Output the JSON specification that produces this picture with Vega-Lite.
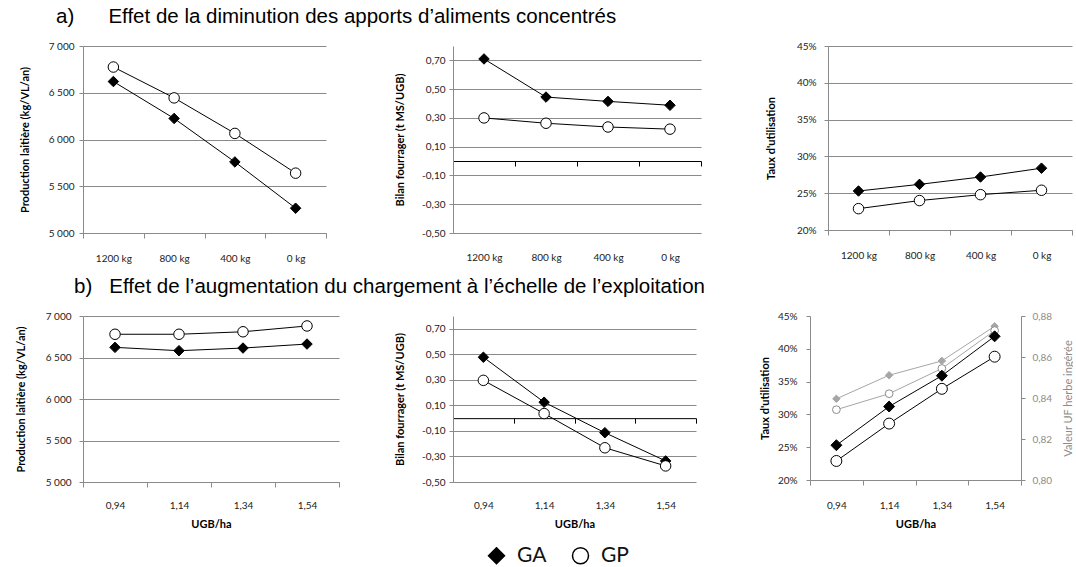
{
  "$schema": "https://vega.github.io/schema/vega-lite/v6.json",
  "padding": {"left": 15, "top": 6, "right": 0, "bottom": 0},
  "data": {"values": [
    {"panel": "A1", "x": "1200 kg", "serie": "GA", "v": 6620},
    {"panel": "A1", "x": "800 kg", "serie": "GA", "v": 6225},
    {"panel": "A1", "x": "400 kg", "serie": "GA", "v": 5760},
    {"panel": "A1", "x": "0 kg", "serie": "GA", "v": 5265},
    {"panel": "A1", "x": "1200 kg", "serie": "GP", "v": 6775},
    {"panel": "A1", "x": "800 kg", "serie": "GP", "v": 6445},
    {"panel": "A1", "x": "400 kg", "serie": "GP", "v": 6065},
    {"panel": "A1", "x": "0 kg", "serie": "GP", "v": 5640},
    {"panel": "A2", "x": "1200 kg", "serie": "GA", "v": 0.71},
    {"panel": "A2", "x": "800 kg", "serie": "GA", "v": 0.445},
    {"panel": "A2", "x": "400 kg", "serie": "GA", "v": 0.415},
    {"panel": "A2", "x": "0 kg", "serie": "GA", "v": 0.388},
    {"panel": "A2", "x": "1200 kg", "serie": "GP", "v": 0.3},
    {"panel": "A2", "x": "800 kg", "serie": "GP", "v": 0.263},
    {"panel": "A2", "x": "400 kg", "serie": "GP", "v": 0.237},
    {"panel": "A2", "x": "0 kg", "serie": "GP", "v": 0.222},
    {"panel": "A3", "x": "1200 kg", "serie": "GA", "v": 0.253},
    {"panel": "A3", "x": "800 kg", "serie": "GA", "v": 0.262},
    {"panel": "A3", "x": "400 kg", "serie": "GA", "v": 0.272},
    {"panel": "A3", "x": "0 kg", "serie": "GA", "v": 0.284},
    {"panel": "A3", "x": "1200 kg", "serie": "GP", "v": 0.229},
    {"panel": "A3", "x": "800 kg", "serie": "GP", "v": 0.24},
    {"panel": "A3", "x": "400 kg", "serie": "GP", "v": 0.248},
    {"panel": "A3", "x": "0 kg", "serie": "GP", "v": 0.254},
    {"panel": "B1", "x": "0,94", "serie": "GA", "v": 6622},
    {"panel": "B1", "x": "1,14", "serie": "GA", "v": 6582},
    {"panel": "B1", "x": "1,34", "serie": "GA", "v": 6614},
    {"panel": "B1", "x": "1,54", "serie": "GA", "v": 6662},
    {"panel": "B1", "x": "0,94", "serie": "GP", "v": 6780},
    {"panel": "B1", "x": "1,14", "serie": "GP", "v": 6780},
    {"panel": "B1", "x": "1,34", "serie": "GP", "v": 6810},
    {"panel": "B1", "x": "1,54", "serie": "GP", "v": 6880},
    {"panel": "B2", "x": "0,94", "serie": "GA", "v": 0.477},
    {"panel": "B2", "x": "1,14", "serie": "GA", "v": 0.125},
    {"panel": "B2", "x": "1,34", "serie": "GA", "v": -0.114},
    {"panel": "B2", "x": "1,54", "serie": "GA", "v": -0.335},
    {"panel": "B2", "x": "0,94", "serie": "GP", "v": 0.296},
    {"panel": "B2", "x": "1,14", "serie": "GP", "v": 0.036},
    {"panel": "B2", "x": "1,34", "serie": "GP", "v": -0.232},
    {"panel": "B2", "x": "1,54", "serie": "GP", "v": -0.374},
    {"panel": "B3", "x": "0,94", "serie": "GA", "v": 0.253},
    {"panel": "B3", "x": "1,14", "serie": "GA", "v": 0.312},
    {"panel": "B3", "x": "1,34", "serie": "GA", "v": 0.359},
    {"panel": "B3", "x": "1,54", "serie": "GA", "v": 0.419},
    {"panel": "B3", "x": "0,94", "serie": "GP", "v": 0.229},
    {"panel": "B3", "x": "1,14", "serie": "GP", "v": 0.286},
    {"panel": "B3", "x": "1,34", "serie": "GP", "v": 0.339},
    {"panel": "B3", "x": "1,54", "serie": "GP", "v": 0.388},
    {"panel": "B3u", "x": "0,94", "serie": "GA UF", "v": 0.8396},
    {"panel": "B3u", "x": "1,14", "serie": "GA UF", "v": 0.8511},
    {"panel": "B3u", "x": "1,34", "serie": "GA UF", "v": 0.8581},
    {"panel": "B3u", "x": "1,54", "serie": "GA UF", "v": 0.8750},
    {"panel": "B3u", "x": "0,94", "serie": "GP UF", "v": 0.8343},
    {"panel": "B3u", "x": "1,14", "serie": "GP UF", "v": 0.8421},
    {"panel": "B3u", "x": "1,34", "serie": "GP UF", "v": 0.8544},
    {"panel": "B3u", "x": "1,54", "serie": "GP UF", "v": 0.8729}
  ]},
  "vconcat": [
    {
      "title": {"text": "a)\u00a0\u00a0\u00a0\u00a0\u00a0\u00a0Effet de la diminution des apports d\u2019aliments concentrés", "frame": "group", "dx": -27, "offset": 14},
      "bounds": "flush",
      "spacing": 127,
      "hconcat": [
        {
          "width": 243, "height": 187,
          "transform": [{"filter": "datum.panel === 'A1'"}],
          "encoding": {
            "x": {"field": "x", "type": "ordinal", "sort": ["1200 kg", "800 kg", "400 kg", "0 kg"], "bandPosition": 0.5, "scale": {"type": "band", "paddingInner": 0, "paddingOuter": 0}, "axis": {"title": null, "labelPadding": 15}},
            "y": {"field": "v", "type": "quantitative", "scale": {"domain": [5000, 7000], "nice": false, "zero": false}, "axis": {"title": "Production laitière (kg/VL/an)", "values": [5000, 5500, 6000, 6500, 7000], "labelExpr": "replace(format(datum.value, ',.0f'), ',', ' ')", "minExtent": 44, "maxExtent": 44, "titlePadding": 9, "labelPadding": 5}}
          },
          "layer": [
            {"mark": {"type": "line", "color": "#000", "strokeWidth": 1}, "encoding": {"detail": {"field": "serie", "type": "nominal"}}},
            {"mark": {"type": "point", "filled": true, "size": 110, "stroke": "#000", "strokeWidth": 1, "opacity": 1},
             "encoding": {
               "shape": {"field": "serie", "type": "nominal", "scale": {"domain": ["GA", "GP"], "range": ["diamond", "circle"]},
                 "legend": {"title": null, "orient": "none", "legendX": 403, "legendY": 499, "direction": "horizontal", "padding": 0, "symbolSize": 256, "labelFont": "Lato", "labelFontSize": 21, "labelColor": "#111", "labelOffset": 10, "columnPadding": 22}},
               "fill": {"field": "serie", "type": "nominal", "scale": {"domain": ["GA", "GP"], "range": ["#000000", "#ffffff"]}, "legend": null}
             }}
          ]
        },
        {
          "width": 248, "height": 187,
          "transform": [{"filter": "datum.panel === 'A2'"}],
          "encoding": {
            "y": {"field": "v", "type": "quantitative", "scale": {"domain": [-0.5, 0.8], "nice": false, "zero": false}, "axis": {"title": "Bilan fourrager (t MS/UGB)", "values": [-0.5, -0.3, -0.1, 0.1, 0.3, 0.5, 0.7], "labelExpr": "(datum.value < 0 ? '-' : '') + replace(format(abs(datum.value), '.2f'), '.', ',')", "minExtent": 31, "maxExtent": 31, "titlePadding": 17, "labelPadding": 4}}
          },
          "layer": [
            {"mark": {"type": "line", "color": "#000", "strokeWidth": 1},
             "encoding": {
               "x": {"field": "x", "type": "ordinal", "sort": ["1200 kg", "800 kg", "400 kg", "0 kg"], "bandPosition": 0.5, "scale": {"type": "band", "paddingInner": 0, "paddingOuter": 0}, "axis": {"title": null, "orient": "bottom", "domain": false, "ticks": false, "tickSize": 0, "labelPadding": 19}},
               "detail": {"field": "serie", "type": "nominal"}}},
            {"mark": {"type": "point", "filled": true, "size": 110, "stroke": "#000", "strokeWidth": 1, "opacity": 1},
             "encoding": {
               "x": {"field": "x", "type": "ordinal", "sort": ["1200 kg", "800 kg", "400 kg", "0 kg"], "bandPosition": 0.5, "scale": {"type": "band", "paddingInner": 0, "paddingOuter": 0}, "axis": {"title": null, "orient": "bottom", "labels": false, "offset": -72, "domainColor": "#000", "tickColor": "#000"}},
               "shape": {"field": "serie", "type": "nominal", "scale": {"domain": ["GA", "GP"], "range": ["diamond", "circle"]}},
               "fill": {"field": "serie", "type": "nominal", "scale": {"domain": ["GA", "GP"], "range": ["#000000", "#ffffff"]}, "legend": null}
             }}
          ],
          "resolve": {"axis": {"x": "independent"}}
        },
        {
          "width": 244, "height": 184,
          "transform": [{"filter": "datum.panel === 'A3'"}],
          "encoding": {
            "x": {"field": "x", "type": "ordinal", "sort": ["1200 kg", "800 kg", "400 kg", "0 kg"], "bandPosition": 0.5, "scale": {"type": "band", "paddingInner": 0, "paddingOuter": 0}, "axis": {"title": null, "labelPadding": 15}},
            "y": {"field": "v", "type": "quantitative", "scale": {"domain": [0.2, 0.45], "nice": false, "zero": false}, "axis": {"title": "Taux d'utilisation", "values": [0.2, 0.25, 0.3, 0.35, 0.4, 0.45], "format": ".0%", "minExtent": 36, "maxExtent": 36, "titlePadding": 16, "labelPadding": 8}}
          },
          "layer": [
            {"mark": {"type": "line", "color": "#000", "strokeWidth": 1}, "encoding": {"detail": {"field": "serie", "type": "nominal"}}},
            {"mark": {"type": "point", "filled": true, "size": 110, "stroke": "#000", "strokeWidth": 1, "opacity": 1},
             "encoding": {
               "shape": {"field": "serie", "type": "nominal", "scale": {"domain": ["GA", "GP"], "range": ["diamond", "circle"]}},
               "fill": {"field": "serie", "type": "nominal", "scale": {"domain": ["GA", "GP"], "range": ["#000000", "#ffffff"]}, "legend": null}
             }}
          ]
        }
      ]
    },
    {
      "title": {"text": "b)\u00a0\u00a0\u00a0Effet de l\u2019augmentation du chargement à l\u2019échelle de l\u2019exploitation", "frame": "group", "dx": -9, "offset": 14},
      "bounds": "flush",
      "spacing": 114,
      "hconcat": [
        {
          "width": 256, "height": 166,
          "transform": [{"filter": "datum.panel === 'B1'"}],
          "encoding": {
            "x": {"field": "x", "type": "ordinal", "sort": ["0,94", "1,14", "1,34", "1,54"], "bandPosition": 0.5, "scale": {"type": "band", "paddingInner": 0, "paddingOuter": 0}, "axis": {"title": "UGB/ha", "labelPadding": 13, "titlePadding": 8}},
            "y": {"field": "v", "type": "quantitative", "scale": {"domain": [5000, 7000], "nice": false, "zero": false}, "axis": {"title": "Production laitière (kg/VL/an)", "values": [5000, 5500, 6000, 6500, 7000], "labelExpr": "replace(format(datum.value, ',.0f'), ',', ' ')", "minExtent": 44, "maxExtent": 44, "titlePadding": 13, "labelPadding": 8}}
          },
          "layer": [
            {"mark": {"type": "line", "color": "#000", "strokeWidth": 1}, "encoding": {"detail": {"field": "serie", "type": "nominal"}}},
            {"mark": {"type": "point", "filled": true, "size": 110, "stroke": "#000", "strokeWidth": 1, "opacity": 1},
             "encoding": {
               "shape": {"field": "serie", "type": "nominal", "scale": {"domain": ["GA", "GP"], "range": ["diamond", "circle"]}},
               "fill": {"field": "serie", "type": "nominal", "scale": {"domain": ["GA", "GP"], "range": ["#000000", "#ffffff"]}, "legend": null}
             }}
          ]
        },
        {
          "width": 243, "height": 166,
          "transform": [{"filter": "datum.panel === 'B2'"}],
          "encoding": {
            "y": {"field": "v", "type": "quantitative", "scale": {"domain": [-0.5, 0.8], "nice": false, "zero": false}, "axis": {"title": "Bilan fourrager (t MS/UGB)", "values": [-0.5, -0.3, -0.1, 0.1, 0.3, 0.5, 0.7], "labelExpr": "(datum.value < 0 ? '-' : '') + replace(format(abs(datum.value), '.2f'), '.', ',')", "minExtent": 31, "maxExtent": 31, "titlePadding": 17, "labelPadding": 4}}
          },
          "layer": [
            {"mark": {"type": "line", "color": "#000", "strokeWidth": 1},
             "encoding": {
               "x": {"field": "x", "type": "ordinal", "sort": ["0,94", "1,14", "1,34", "1,54"], "bandPosition": 0.5, "scale": {"type": "band", "paddingInner": 0, "paddingOuter": 0}, "axis": {"title": "UGB/ha", "orient": "bottom", "domain": false, "ticks": false, "tickSize": 0, "labelPadding": 18, "titlePadding": 8}},
               "detail": {"field": "serie", "type": "nominal"}}},
            {"mark": {"type": "point", "filled": true, "size": 110, "stroke": "#000", "strokeWidth": 1, "opacity": 1},
             "encoding": {
               "x": {"field": "x", "type": "ordinal", "sort": ["0,94", "1,14", "1,34", "1,54"], "bandPosition": 0.5, "scale": {"type": "band", "paddingInner": 0, "paddingOuter": 0}, "axis": {"title": null, "orient": "bottom", "labels": false, "offset": -63.85, "domainColor": "#000", "tickColor": "#000"}},
               "shape": {"field": "serie", "type": "nominal", "scale": {"domain": ["GA", "GP"], "range": ["diamond", "circle"]}},
               "fill": {"field": "serie", "type": "nominal", "scale": {"domain": ["GA", "GP"], "range": ["#000000", "#ffffff"]}, "legend": null}
             }}
          ],
          "resolve": {"axis": {"x": "independent"}}
        },
        {
          "width": 211, "height": 164,
          "encoding": {
            "x": {"field": "x", "type": "ordinal", "sort": ["0,94", "1,14", "1,34", "1,54"], "bandPosition": 0.5, "scale": {"type": "band", "paddingInner": 0, "paddingOuter": 0}, "axis": {"title": "UGB/ha", "labelPadding": 15, "titlePadding": 8}}
          },
          "layer": [
            {
              "transform": [{"filter": "datum.panel === 'B3u'"}],
              "encoding": {
                "y": {"field": "v", "type": "quantitative", "scale": {"domain": [0.8, 0.88], "nice": false, "zero": false}, "axis": {"orient": "right", "title": "Valeur UF herbe ingérée", "grid": false, "values": [0.8, 0.82, 0.84, 0.86, 0.88], "labelExpr": "replace(format(datum.value, '.2f'), '.', ',')", "labelColor": "#8c8c8c", "titleColor": "#8c8c8c", "titleFontWeight": "normal", "minExtent": 36, "maxExtent": 36, "labelPadding": 7, "titleAngle": 270, "titleX": 47, "titleBaseline": "middle"}}
              },
              "layer": [
                {"mark": {"type": "line", "color": "#a6a6a6", "strokeWidth": 1}, "encoding": {"detail": {"field": "serie", "type": "nominal"}}},
                {"transform": [{"filter": "datum.serie === 'GA UF'"}], "mark": {"type": "point", "shape": "diamond", "filled": true, "fill": "#a6a6a6", "stroke": "#a6a6a6", "strokeWidth": 1, "size": 55, "opacity": 1}},
                {"transform": [{"filter": "datum.serie === 'GP UF'"}], "mark": {"type": "point", "shape": "circle", "filled": true, "fill": "#ffffff", "stroke": "#8c8c8c", "strokeWidth": 1, "size": 60, "opacity": 1}}
              ]
            },
            {
              "transform": [{"filter": "datum.panel === 'B3'"}],
              "encoding": {
                "y": {"field": "v", "type": "quantitative", "scale": {"domain": [0.2, 0.45], "nice": false, "zero": false}, "axis": {"orient": "left", "title": "Taux d'utilisation", "values": [0.2, 0.25, 0.3, 0.35, 0.4, 0.45], "format": ".0%", "minExtent": 36, "maxExtent": 36, "titlePadding": 4, "labelPadding": 9}}
              },
              "layer": [
                {"mark": {"type": "line", "color": "#000", "strokeWidth": 1}, "encoding": {"detail": {"field": "serie", "type": "nominal"}}},
                {"mark": {"type": "point", "filled": true, "size": 120, "stroke": "#000", "strokeWidth": 1, "opacity": 1},
                 "encoding": {
                   "shape": {"field": "serie", "type": "nominal", "scale": {"domain": ["GA", "GP"], "range": ["diamond", "circle"]}},
                   "fill": {"field": "serie", "type": "nominal", "scale": {"domain": ["GA", "GP"], "range": ["#000000", "#ffffff"]}, "legend": null}
                 }}
              ]
            }
          ],
          "resolve": {"scale": {"y": "independent"}}
        }
      ]
    }
  ],
  "spacing": 13,
  "config": {
    "view": {"stroke": null},
    "font": "Lato",
    "axis": {"labelFont": "Lato", "labelFontSize": 10, "labelColor": "#222222", "titleFont": "Lato", "titleFontSize": 11, "titleFontWeight": "bold", "titleColor": "#000000", "gridColor": "#8a8a8a", "domainColor": "#8a8a8a", "tickColor": "#8a8a8a", "tickSize": 4, "gridWidth": 1, "domainWidth": 1, "tickWidth": 1},
    "axisX": {"grid": false, "labelAngle": 0, "tickBand": "extent", "tickSize": 5},
    "axisY": {"grid": true},
    "title": {"font": "Liberation Sans", "fontSize": 20.5, "fontWeight": "normal", "color": "#000000", "anchor": "start"}
  }
}
